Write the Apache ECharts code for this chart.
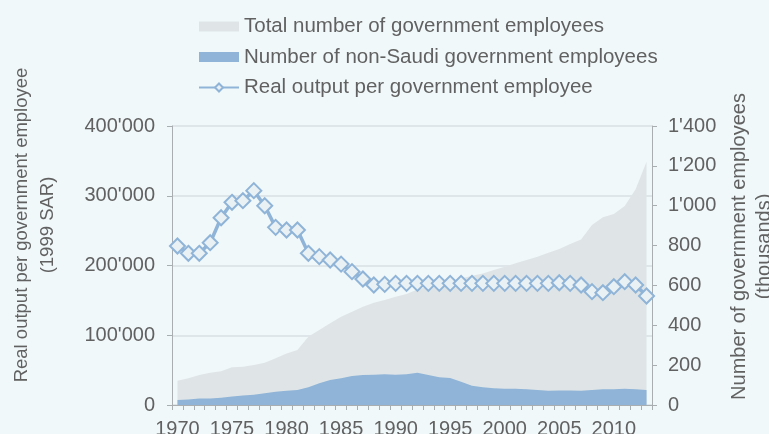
<!DOCTYPE html>
<html>
<head>
<meta charset="utf-8">
<script src="https://cdn.jsdelivr.net/npm/echarts@6/dist/echarts.min.js"></script>
<style>
html,body{margin:0;padding:0;background:#f1f8fa;}
#c{width:769px;height:434px;}
</style>
</head>
<body>
<div id="c"></div>
<script>
const years = [];
for (let y = 1970; y <= 2013; y++) years.push(String(y));

const totalEmployees = [122,134,150,162,169,189,192,201,212,234,259,276,343,376,410,443,468,493,513,527,543,557,580,595,610,622,635,648,660,677,694,711,728,744,764,783,808,831,903,942,958,998,1082,1221];
const nonSaudiEmployees = [25,28,32,33,37,43,48,52,59,67,72,75,89,109,125,134,146,151,152,154,152,154,162,151,139,136,117,97,89,84,82,82,79,75,72,73,73,72,75,79,79,82,79,75];
const outputPerEmployee = [228000,217500,217500,232700,268500,290600,292900,307300,285700,254700,250900,250900,217500,212700,207900,202000,191200,180600,172000,173000,174400,174400,174400,174400,174400,174400,174400,174400,174400,174400,174400,174400,174400,174400,174400,175300,174400,172000,162500,161000,169600,176800,172000,156300];

const leftTicks = [0,100000,200000,300000,400000];
const rightTicks = [0,200,400,600,800,1000,1200,1400];

const fmt = v => String(v).replace(/\B(?=(\d{3})+(?!\d))/g, "'");
const txt = '#616161';
const font = 'Liberation Sans';

const chart = echarts.init(document.getElementById('c'));
chart.setOption({
  backgroundColor: '#f1f8fa',
  animation: false,
  textStyle: {fontFamily: font},
  legend: {
    orient: 'vertical',
    left: 193,
    top: 11,
    itemWidth: 40,
    itemHeight: 10,
    itemGap: 9.5,
    textStyle: {fontSize: 20.5, color: txt, fontFamily: font},
    data: [
      {name: 'Total number of government employees', icon: 'rect'},
      {name: 'Number of non-Saudi government employees', icon: 'rect'},
      {name: 'Real output per government employee'}
    ]
  },
  grid: {left: 172, right: 117, top: 126, bottom: 29, outerBoundsMode: 'none', containLabel: false},
  xAxis: {
    type: 'category',
    data: years,
    boundaryGap: true,
    axisLine: {lineStyle: {color: '#a9aeb1'}},
    axisTick: {show: true, interval: 0, length: 5, lineStyle: {color: '#a9aeb1'}},
    axisLabel: {interval: 4, color: txt, fontSize: 20, margin: 14, fontFamily: font}
  },
  yAxis: [
    {
      type: 'value', min: 0, max: 400000, interval: 100000,
      name: 'Real output per government employee\n(1999 SAR)',
      nameLocation: 'middle', nameGap: 111, nameRotate: 90,
      nameTextStyle: {fontSize: 18.5, color: txt, fontFamily: font, lineHeight: 26, padding: [0, 0, 0, 81]},
      axisLine: {show: true, lineStyle: {color: '#a9aeb1'}},
      axisTick: {show: true, length: 5, lineStyle: {color: '#a9aeb1'}},
      axisLabel: {color: txt, fontSize: 20, margin: 17, formatter: fmt, fontFamily: font},
      splitLine: {show: true, lineStyle: {color: '#d9e1e4', width: 1.5}}
    },
    {
      type: 'value', min: 0, max: 1400, interval: 200,
      name: 'Number of government employees\n(thousands)',
      nameLocation: 'middle', nameGap: 73, nameRotate: 90,
      nameTextStyle: {fontSize: 20, color: txt, fontFamily: font, lineHeight: 25, padding: [0, 0, 0, 38]},
      axisLine: {show: true, lineStyle: {color: '#a9aeb1'}},
      axisTick: {show: true, length: 5, lineStyle: {color: '#a9aeb1'}},
      axisLabel: {color: txt, fontSize: 20, margin: 16, formatter: fmt, fontFamily: font},
      splitLine: {show: false}
    }
  ],
  series: [
    {
      name: 'Total number of government employees',
      type: 'line', yAxisIndex: 1, data: totalEmployees,
      showSymbol: false, symbol: 'none',
      lineStyle: {width: 0},
      itemStyle: {color: '#dfe5e7'},
      areaStyle: {color: '#dfe5e7', opacity: 1},
      z: 1
    },
    {
      name: 'Number of non-Saudi government employees',
      type: 'line', yAxisIndex: 1, data: nonSaudiEmployees,
      showSymbol: false, symbol: 'none',
      lineStyle: {width: 0},
      itemStyle: {color: '#8fb4d7'},
      areaStyle: {color: '#8fb4d7', opacity: 1},
      z: 2
    },
    {
      name: 'Real output per government employee',
      type: 'line', yAxisIndex: 0, data: outputPerEmployee,
      symbol: 'diamond', symbolSize: 15, showAllSymbol: true,
      lineStyle: {color: '#8fb4d7', width: 3.5},
      itemStyle: {color: '#e9f1f5', borderColor: '#8fb4d7', borderWidth: 2},
      z: 3
    }
  ]
});
</script>
</body>
</html>
